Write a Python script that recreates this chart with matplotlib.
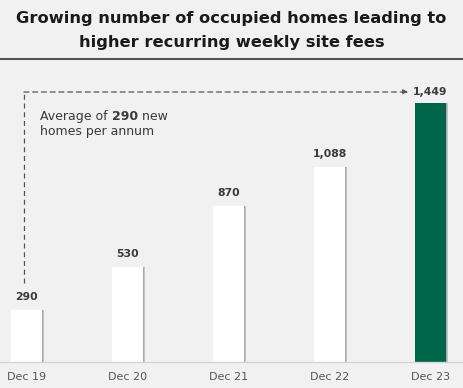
import matplotlib
matplotlib.use("Agg")
import matplotlib.pyplot as plt
from matplotlib.lines import Line2D

categories = ["Dec 19", "Dec 20", "Dec 21", "Dec 22", "Dec 23"]
values = [290, 530, 870, 1088, 1449]
value_labels = ["290", "530", "870", "1,088", "1,449"]
title_lines = ["Growing number of occupied homes leading to", "higher recurring weekly site fees"]

BG = "#f1f1f1"
GREEN = "#00664a"
TXT = "#3a3a3a"
W, H = 463, 388
fig = plt.figure(figsize=(W / 100, H / 100), dpi=100, facecolor=BG)
ax = fig.add_axes([0, 1 - 362 / H, 1, (362 - 60) / H])
ax.set_facecolor(BG)

x = list(range(len(categories)))
colors = ["white"] * (len(values) - 1) + [GREEN]
bw = 0.315
# soft shadow on right edge
ax.bar([i + 0.012 for i in x], values, width=bw, color="#c4c4c4", zorder=1)
ax.bar([i + 0.006 for i in x], values, width=bw, color="#a9a9a9", zorder=1.5)
ax.bar(x, values, width=bw, color=colors, zorder=2)

ax.set_xlim(-0.262, 4.322)
ax.set_ylim(0, 302 / 0.1788)

for i, (v, lab) in enumerate(zip(values, value_labels)):
    if i == len(values) - 1:
        continue
    ax.text(i, v + 45, lab, ha="center", va="bottom", fontsize=7.8, fontweight="bold", color=TXT)

# dashed arrow
ytop = 1510
ax.plot([-0.025, -0.025], [440, ytop], ls=(0, (4, 3)), color="#555555", lw=0.9, zorder=3)
ax.annotate("", xy=(3.78, ytop), xytext=(-0.025, ytop),
            arrowprops=dict(arrowstyle="-|>", color="#555555", lw=0.9, ls=(0, (4, 3)),
                            mutation_scale=7, shrinkA=0, shrinkB=0))
ax.text(4, ytop, value_labels[-1], ha="center", va="center", fontsize=7.8, fontweight="bold",
        color=TXT)

# annotation with bold number
fig.canvas.draw()
r = fig.canvas.get_renderer()
parts = [("Average of ", "normal"), ("290", "bold"), (" new", "normal")]
xpix = 40
yline = 1375
for s, wgt in parts:
    xd = ax.transData.inverted().transform((xpix, 0))[0]
    t = ax.text(xd, yline, s, fontsize=9, fontweight=wgt, color=TXT, va="center", ha="left")
    bb = t.get_window_extent(renderer=r)
    xpix = bb.x1
ax.text(ax.transData.inverted().transform((40, 0))[0], 1290, "homes per annum", fontsize=9,
        color=TXT, va="center", ha="left")

ax.set_xticks(x)
ax.set_xticklabels(categories, fontsize=8, color="#555555")
ax.tick_params(axis="x", length=0, pad=7)
ax.set_yticks([])
for s in ["top", "left", "right"]:
    ax.spines[s].set_visible(False)
ax.spines["bottom"].set_color("#d4d4d4")
ax.spines["bottom"].set_linewidth(1.0)

for yp, line in zip([19, 42], title_lines):
    fig.text(0.5, 1 - yp / H, line, ha="center", va="center", fontsize=11.7, fontweight="bold",
             color="#1a1a1a")
fig.add_artist(Line2D([0, 1], [1 - 58.5 / H] * 2, color="#555555", lw=1.5))

fig.savefig("out.png", dpi=100, facecolor=BG)
